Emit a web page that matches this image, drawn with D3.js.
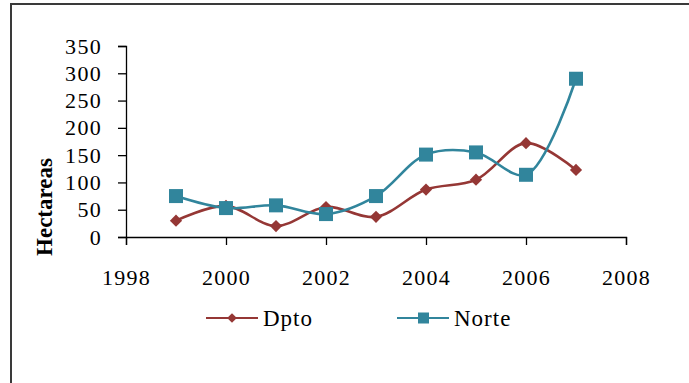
<!DOCTYPE html>
<html>
<head>
<meta charset="utf-8">
<script src="https://cdn.jsdelivr.net/npm/d3@7"></script>
<style>
  body { margin: 0; background: #fff; }
  text { font-family: "Liberation Serif", "Times New Roman", serif; fill: #000; }
</style>
</head>
<body>
<div id="viz"></div>
<script>
const width = 689;
const height = 383;
const margin = {top: 46, right: 63, bottom: 146, left: 126};

// data
const years = [1999, 2000, 2001, 2002, 2003, 2004, 2005, 2006, 2007];
const dpto = [30, 57, 20, 55, 37, 87, 105, 172, 123];
const norte = [75, 53, 58, 42, 75, 151, 155, 114, 290];
const xTicks = [1998, 2000, 2002, 2004, 2006, 2008];
const yTicks = [0, 50, 100, 150, 200, 250, 300, 350];
const seriesNames = ['Dpto', 'Norte'];
const seriesColors = ['#953735', '#31859c'];

const svg = d3.select('#viz')
    .append('svg')
    .attr('width', width)
    .attr('height', height)
    .attr('viewBox', [0, 0, width, height]);

svg.append('rect').attr('width', width).attr('height', height).attr('fill', '#fff');

// outer frame (only left and top are visible)
svg.append('path')
    .attr('d', `M11,${height} L11,4 L${width},4`)
    .attr('fill', 'none')
    .attr('stroke', '#3a3a3a')
    .attr('stroke-width', 2);

const x = d3.scaleLinear()
    .domain([1998, 2008])
    .range([margin.left, width - margin.right]);

const y = d3.scaleLinear()
    .domain([0, 350])
    .range([height - margin.bottom, margin.top]);

// x axis
const xAxis = svg.append('g')
    .attr('transform', `translate(0, ${y(0)})`)
    .call(d3.axisBottom(x).tickValues(xTicks).tickFormat(d3.format('d')).tickSize(8).tickPadding(24));
xAxis.attr('font-family', null);
xAxis.select('.domain').attr('stroke', '#000').attr('stroke-width', 1.3);
xAxis.selectAll('.tick line').attr('stroke', '#000').attr('stroke-width', 1.3);
xAxis.selectAll('text')
    .attr('font-size', 22)
    .attr('letter-spacing', '1.3px')
    .attr('fill', '#000');

// y axis
const yAxis = svg.append('g')
    .attr('transform', `translate(${x(1998)}, 0)`)
    .call(d3.axisLeft(y).tickValues(yTicks).tickSize(8).tickPadding(16));
yAxis.attr('font-family', null);
yAxis.select('.domain').attr('stroke', '#000').attr('stroke-width', 1.3);
yAxis.selectAll('.tick line').attr('stroke', '#000').attr('stroke-width', 1.3);
yAxis.selectAll('text')
    .attr('font-size', 22)
    .attr('letter-spacing', '1.3px')
    .attr('fill', '#000');

// y title
svg.append('text')
    .attr('transform', `translate(52, 207) rotate(-90)`)
    .attr('text-anchor', 'middle')
    .attr('font-size', 23)
    .attr('font-weight', 'bold')
    .text('Hectareas');

// smoothed lines
const line = d3.line()
    .x((d, i) => x(years[i]))
    .y(d => y(d))
    .curve(d3.curveCatmullRom.alpha(0.5));

const allSeries = [dpto, norte];

allSeries.forEach((values, s) => {
    svg.append('path')
        .attr('d', line(values))
        .attr('fill', 'none')
        .attr('stroke', seriesColors[s])
        .attr('stroke-width', 2.6);
});

// markers
const diamond = d3.symbol().type(d3.symbolDiamond2).size(95);
svg.append('g')
    .selectAll('path')
    .data(dpto)
    .join('path')
        .attr('transform', (d, i) => `translate(${x(years[i])}, ${y(d)})`)
        .attr('d', diamond())
        .attr('fill', seriesColors[0]);

svg.append('g')
    .selectAll('rect')
    .data(norte)
    .join('rect')
        .attr('x', (d, i) => x(years[i]) - 7)
        .attr('y', d => y(d) - 7)
        .attr('width', 14)
        .attr('height', 14)
        .attr('fill', seriesColors[1]);

// legend
const legendX = [206, 397];
const legendY = 318;
const legend = svg.append('g')
    .selectAll('g')
    .data(seriesNames)
    .join('g')
        .attr('transform', (d, i) => `translate(${legendX[i]}, ${legendY})`);

legend.append('line')
    .attr('x1', 0).attr('x2', 52)
    .attr('stroke', (d, i) => seriesColors[i])
    .attr('stroke-width', 2.2);

legend.filter((d, i) => i === 0).append('path')
    .attr('transform', 'translate(26, 0)')
    .attr('d', d3.symbol().type(d3.symbolDiamond2).size(60)())
    .attr('fill', seriesColors[0]);

legend.filter((d, i) => i === 1).append('rect')
    .attr('x', 21).attr('y', -5.5)
    .attr('width', 11).attr('height', 11)
    .attr('fill', seriesColors[1]);

legend.append('text')
    .attr('x', 57)
    .attr('dy', '0.35em')
    .attr('font-size', 23)
    .attr('letter-spacing', '1px')
    .text(d => d);
</script>
</body>
</html>
